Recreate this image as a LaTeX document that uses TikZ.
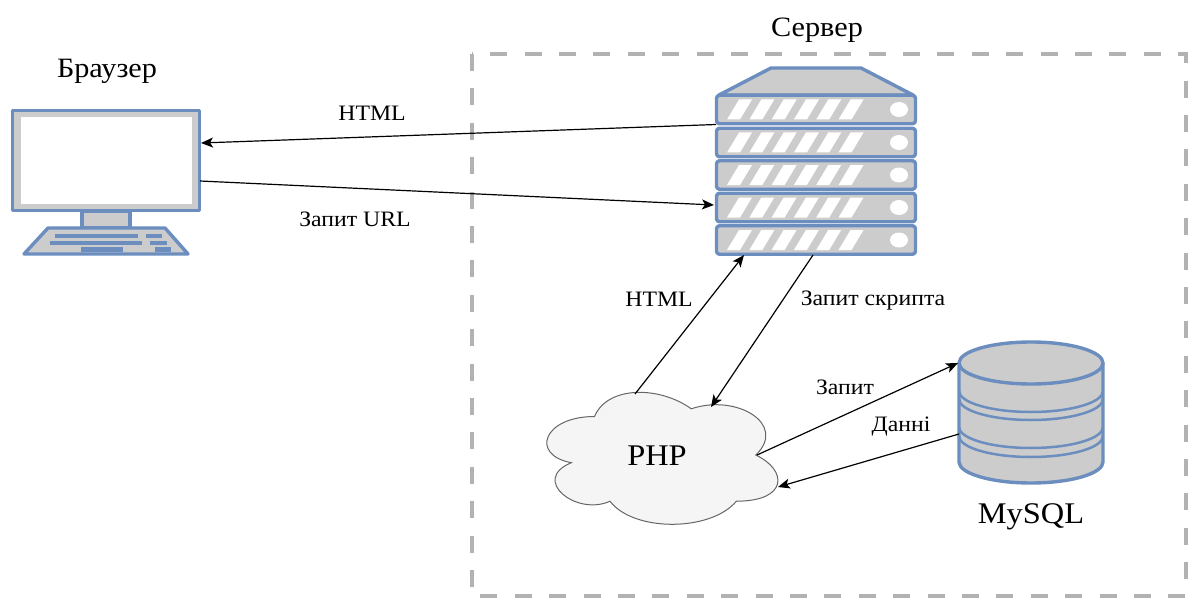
\documentclass[tikz,border=0pt]{standalone}
\usepackage{fontspec}
\setmainfont[FakeStretch=1.08]{Liberation Serif}
\usetikzlibrary{arrows.meta}
\definecolor{iconblue}{HTML}{6C8EBF}
\definecolor{icongray}{HTML}{CCCCCC}
\tikzset{
    icon/.style={draw=iconblue, fill=icongray, line width=3.4pt, line join=round},
    rackrow/.style={icon, rounded corners=3pt, minimum width=199pt, minimum height=28.5pt, inner sep=0pt},
    link/.style={-{Stealth[length=12pt,width=10pt,inset=3pt]}, line width=1.2pt},
    lbl/.style={inner sep=0pt, font=\fontsize{22}{24}\selectfont},
    titlel/.style={inner sep=0pt, font=\fontsize{28}{30}\selectfont},
    bigl/.style={inner sep=0pt, font=\fontsize{30}{32}\selectfont}
}
\begin{document}
\begin{tikzpicture}[x=1pt, y=-1pt]
    \useasboundingbox (0,0) rectangle (1194,599);

    % server frame
    \draw[color=black!30, line width=4pt, dash pattern=on 17pt off 17.4pt] (472,54) rectangle (1186,596);

    % monitor
    \node[icon, minimum width=187pt, minimum height=100pt, inner sep=0pt] (monitor) at (106,160.5) {};
    \node[fill=white, minimum width=171pt, minimum height=87pt, inner sep=0pt] (screen) at (monitor.center) {};
    \node[icon, minimum width=48pt, minimum height=17pt, inner sep=0pt] (stand) at (106,219.5) {};
    \draw[icon] (48,228) -- (165,228) -- (188,254) -- (24,254) -- cycle;
    \foreach \xa/\xb/\yy in {55/138/236, 146/162/236, 50/142/243, 150/167/243, 81/123/249.5, 155/171/249.5}
        \draw[iconblue, line width=4.5pt] (\xa,\yy) -- (\xb,\yy);

    % server
    \draw[icon] (771,68) -- (861,68) -- (913,95) -- (719,95) -- cycle;
    \foreach \n/\yy in {1/109.5, 2/142.5, 3/175, 4/207.5, 5/240}{
        \node[rackrow] (rack\n) at (816,\yy) {};
        \foreach \s in {0,...,5}
            \fill[white] (727+22.3*\s,\yy+10) -- (740+22.3*\s,\yy+10) -- (752+22.3*\s,\yy-10) -- (739+22.3*\s,\yy-10) -- cycle;
        \fill[white] (899,\yy) ellipse (9pt and 7.5pt);
    }

    % database
    \draw[icon] (959,363) -- (959,462) arc[start angle=180, end angle=360, x radius=72pt, y radius=21pt] -- (1103,363);
    \foreach \yy in {391,399,427,436}
        \draw[icon, fill=none, line width=2.5pt] (959,\yy) arc[start angle=180, end angle=360, x radius=72pt, y radius=21pt];
    \draw[icon] (1031,363) ellipse (72pt and 21pt);

    % cloud
    \draw[draw=black!60, fill=black!4, line width=1pt]
        (594.5,416.5) .. controls (543,416.5) and (530,455) .. (571.3,462.7)
        .. controls (530,479.6) and (576.4,516.6) .. (610,501.2)
        .. controls (633.2,532) and (710.6,532) .. (736.4,501.2)
        .. controls (788,501.2) and (788,470.4) .. (755.8,455)
        .. controls (788,424.2) and (736.4,393.4) .. (691.3,408.8)
        .. controls (659,385.7) and (607.4,385.7) .. (594.5,416.5) -- cycle;

    % labels
    \node[titlel] (titlebrowser) at (107,71) {Браузер};
    \node[titlel] (titleserver) at (817,30) {Сервер};
    \node[bigl] (php) at (657,456) {PHP};
    \node[bigl] (mysql) at (1031,517) {MySQL};
    \node[lbl] (lblhtmla) at (372,113) {HTML};
    \node[lbl] (lblurl) at (355,219) {Запит URL};
    \node[lbl] (lblhtmlb) at (659,299) {HTML};
    \node[lbl] (lblscript) at (873,301) {Запит скрипта};
    \node[lbl] (lblquery) at (845,387) {Запит};
    \node[lbl] (lbldata) at (901,427) {Данні};

    % connector ends
    \coordinate (htmlout) at (716,124.5);
    \coordinate (htmlin) at (201,143);
    \coordinate (urlout) at (200,181);
    \coordinate (urlin) at (714,205);
    \coordinate (phpout) at (635,394);
    \coordinate (phpin) at (744,255);
    \coordinate (scriptout) at (813,255);
    \coordinate (scriptin) at (711,407);
    \coordinate (queryout) at (757,455);
    \coordinate (queryin) at (958,363);
    \coordinate (dataout) at (959,434);
    \coordinate (datain) at (778,487);

    \draw[link] (htmlout) -- (htmlin);
    \draw[link] (urlout) -- (urlin);
    \draw[link] (phpout) -- (phpin);
    \draw[link] (scriptout) -- (scriptin);
    \draw[link] (queryout) -- (queryin);
    \draw[link] (dataout) -- (datain);
\end{tikzpicture}
\end{document}
